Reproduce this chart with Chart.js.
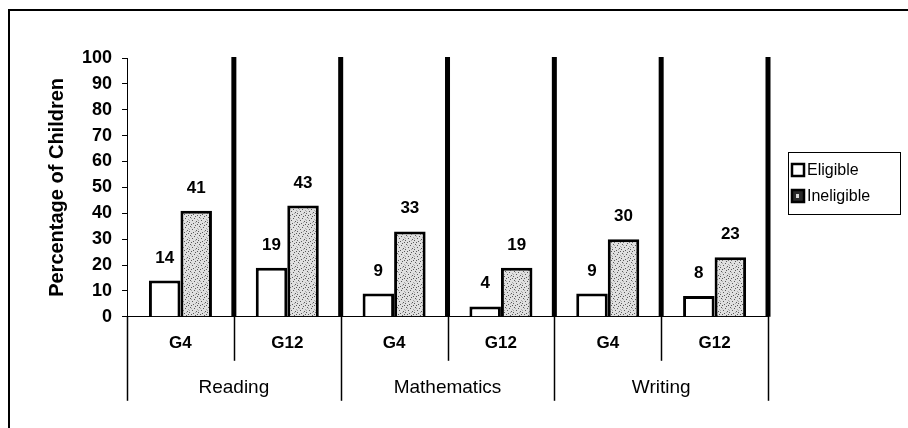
<!DOCTYPE html>
<html>
<head>
<meta charset="utf-8">
<script src="https://cdn.jsdelivr.net/npm/chart.js@4.4.1/dist/chart.umd.min.js"></script>
<style>
  body { margin: 0; background: #fff; }
  #wrap { width: 908px; height: 428px; position: relative; }
</style>
</head>
<body>
<div id="wrap"><canvas id="grafico"></canvas></div>
<script>
// dados
var categorias = ['G4', 'G12', 'G4', 'G12', 'G4', 'G12']
var grupos = ['Reading', 'Mathematics', 'Writing']
var elegiveis = [14, 19, 9, 4, 9, 8]
var inelegiveis = [41, 43, 33, 19, 30, 23]
var nomes_series = ['Eligible', 'Ineligible']
var ticks_y = [0, 10, 20, 30, 40, 50, 60, 70, 80, 90, 100]

var fonte = 'Arial, "Liberation Sans", sans-serif'

// textura pontilhada do Ineligible (fixa, sem aleatorio)
function gera_textura(){
    var c = document.createElement('canvas')
    c.width = 9
    c.height = 9
    var g = c.getContext('2d')
    g.fillStyle = '#e0e0e0'
    g.fillRect(0, 0, 9, 9)
    var pontos = [[1,1],[5,2],[3,4],[7,5],[0,6],[4,7],[8,8],[2,8],[6,0]]
    g.fillStyle = '#5a5a5a'
    pontos.forEach(function(p){ g.fillRect(p[0], p[1], 1, 1) })
    g.fillStyle = '#a8a8a8'
    ;[[2,2],[6,6],[8,3],[0,4]].forEach(function(p){ g.fillRect(p[0], p[1], 1, 1) })
    return g.createPattern(c, 'repeat')
}
var textura = gera_textura()
var cor_legenda = ['#ffffff', '#2a2a2a']

var desenhos = {
    id: 'desenhos',
    beforeDraw: function(chart){
        var ctx = chart.ctx
        ctx.save()
        ctx.fillStyle = '#fff'
        ctx.fillRect(0, 0, chart.width, chart.height)
        // moldura
        ctx.strokeStyle = '#000'
        ctx.lineWidth = 2
        ctx.beginPath()
        ctx.moveTo(9, chart.height)
        ctx.lineTo(9, 10)
        ctx.lineTo(chart.width, 10)
        ctx.stroke()
        ctx.restore()
    },
    afterDatasetsDraw: function(chart){
        var ctx = chart.ctx
        var x = chart.scales.x
        var y = chart.scales.y
        var area = chart.chartArea
        ctx.save()
        // barras grossas separando as categorias
        ctx.fillStyle = '#000'
        for (var i = 0; i < categorias.length; i++){
            var px = x.getPixelForValue(i + 0.5)
            ctx.fillRect(px - 2.5, y.getPixelForValue(100) - 1, 5, area.bottom - y.getPixelForValue(100) + 1)
        }
        // linhas abaixo do eixo
        ctx.strokeStyle = '#000'
        ctx.lineWidth = 1.5
        for (var j = -1; j < categorias.length; j++){
            var bx = Math.round(x.getPixelForValue(j + 0.5)) + 0.5
            var fim = ((j + 1) % 2 == 0) ? area.bottom + 84 : area.bottom + 44
            ctx.beginPath()
            ctx.moveTo(bx, area.bottom)
            ctx.lineTo(bx, fim)
            ctx.stroke()
        }
        // rotulos de valor
        ctx.fillStyle = '#000'
        ctx.font = 'bold 17px ' + fonte
        ctx.textAlign = 'center'
        ctx.textBaseline = 'alphabetic'
        chart.data.datasets.forEach(function(ds, d){
            chart.getDatasetMeta(d).data.forEach(function(el, k){
                ctx.fillText(String(ds.data[k]), el.x, el.y - 18)
            })
        })
        // legenda
        var lx = area.right + 20
        var ly = area.top + 94
        ctx.lineWidth = 1
        ctx.strokeRect(lx + 0.5, ly + 0.5, 112, 62)
        ctx.font = '16px ' + fonte
        ctx.textAlign = 'left'
        ctx.textBaseline = 'middle'
        chart.data.datasets.forEach(function(ds, d){
            var cy = ly + 18 + d * 26
            ctx.fillStyle = cor_legenda[d]
            ctx.fillRect(lx + 4, cy - 6, 12, 12)
            if (d == 1){
                ctx.fillStyle = '#d8d8d8'
                ctx.fillRect(lx + 8, cy - 2, 3, 4)
            }
            ctx.lineWidth = 2.5
            ctx.strokeStyle = '#000'
            ctx.strokeRect(lx + 4, cy - 6, 12, 12)
            ctx.fillStyle = '#000'
            ctx.fillText(ds.label, lx + 19, cy + 1)
        })
        ctx.restore()
    }
}

const ctx = document.getElementById('grafico').getContext('2d')
const myChart = new Chart(ctx, {
    type: 'bar',
    data: {
        labels: categorias,
        datasets: [{
            label: nomes_series[0],
            data: elegiveis,
            backgroundColor: '#ffffff',
            borderColor: '#000000',
            borderWidth: 3,
            borderSkipped: 'bottom'
        }, {
            label: nomes_series[1],
            data: inelegiveis,
            backgroundColor: textura,
            borderColor: '#000000',
            borderWidth: 3,
            borderSkipped: 'bottom'
        }]
    },
    options: {
        responsive: true,
        maintainAspectRatio: false,
        animation: false,
        datasets: { bar: { categoryPercentage: 0.59, barPercentage: 1 } },
        layout: { padding: { left: 45, top: 58, right: 140, bottom: 22 } },
        plugins: {
            legend: { display: false },
            tooltip: { enabled: false }
        },
        scales: {
            y: {
                min: 0,
                max: 100,
                afterBuildTicks: function(scale){
                    scale.ticks = ticks_y.map(function(v){ return { value: v } })
                },
                ticks: { color: '#000', font: { family: fonte, size: 18, weight: 'bold' }, padding: 10, autoSkip: false },
                grid: { drawOnChartArea: false, color: '#000', tickLength: 5, lineWidth: 1 },
                border: { color: '#000', width: 1 },
                title: {
                    display: true,
                    text: 'Percentage of Children',
                    color: '#000',
                    font: { family: fonte, size: 20, weight: 'bold' },
                    padding: { top: 0, bottom: 3 }
                }
            },
            x: {
                ticks: { color: '#000', font: { family: fonte, size: 17, weight: 'bold' }, padding: 16, maxRotation: 0, autoSkip: false },
                grid: { display: false, drawTicks: false, tickLength: 0 },
                border: { color: '#000', width: 1 }
            },
            x2: {
                type: 'category',
                labels: grupos,
                position: 'bottom',
                weight: 1,
                offset: true,
                ticks: { color: '#000', font: { family: fonte, size: 19 }, padding: 7, maxRotation: 0, autoSkip: false },
                grid: { display: false, drawTicks: false, tickLength: 0 },
                border: { display: false }
            }
        }
    },
    plugins: [desenhos]
})
</script>
</body>
</html>
